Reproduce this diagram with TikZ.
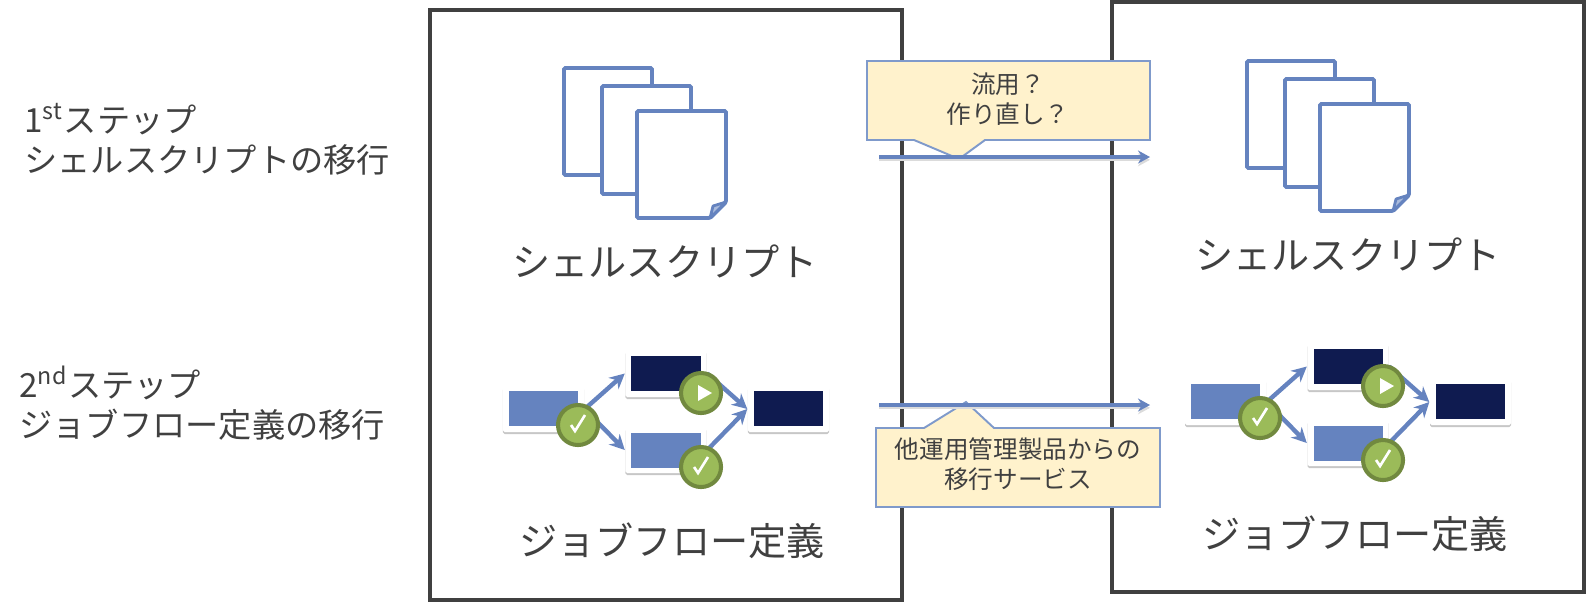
\documentclass[tikz,border=0pt]{standalone}
\usepackage{fontspec}
\setmainfont{Noto Sans CJK JP}
\usetikzlibrary{arrows.meta,shadows}
\definecolor{flowblue}{HTML}{6583BF}
\definecolor{flownavy}{HTML}{0F1B50}
\definecolor{badgegreen}{HTML}{9BBB59}
\definecolor{badgeedge}{HTML}{71893F}
\definecolor{notefill}{HTML}{FFF2CC}
\definecolor{noteedge}{HTML}{7F9ACB}
\definecolor{inktext}{HTML}{404040}
\tikzset{
    px/.style={x=0.01cm,y=-0.01cm},
    frame/.style={draw=inktext,line width=1.15pt,minimum width=4.72cm,inner sep=0},
    sheet/.style={draw=flowblue,fill=white,line width=1.1pt,rounded corners=0.4pt},
    card/.style={fill=white,rounded corners=0.5pt,minimum width=0.81cm,inner sep=0,
        drop shadow={shadow xshift=0cm,shadow yshift=-0.02cm,opacity=0.22,fill=black}},
    lightcard/.style={minimum width=0.69cm,minimum height=0.35cm,inner sep=0,fill=flowblue},
    darkcard/.style={minimum width=0.69cm,minimum height=0.35cm,inner sep=0,fill=flownavy},
    badge/.style={circle,fill=badgegreen,draw=badgeedge,line width=1.15pt,minimum size=0.40cm,inner sep=0},
    flowarrow/.style={draw=flowblue,line width=1.25pt,-{Stealth[length=0.15cm,width=0.15cm]}},
    mainarrow/.style={draw=flowblue,line width=1.25pt,-{Stealth[length=0.12cm,width=0.13cm]},
        preaction={draw=black!14,transform canvas={yshift=-0.8pt}}},
    note/.style={draw=noteedge,fill=notefill,line width=0.55pt},
    notetext/.style={font=\fontsize{7}{8.6}\selectfont,text=inktext,align=center},
    bigtext/.style={font=\fontsize{10.85}{13}\selectfont,text=inktext},
    steptext/.style={font=\fontsize{9.45}{11.6}\selectfont,text=inktext,align=left,anchor=west},
    pics/sheets/.style={code={
        \draw[sheet] (564,68) rectangle (652,175);
        \draw[sheet] (602,86) rectangle (691,194);
        \draw[sheet] (637,111) -- (726,111) -- (726,202) -- (710,218) -- (637,218) -- cycle;
        \draw[draw=flowblue,fill=flowblue!55,line width=0.8pt,line join=round] (726,202) -- (713,206) -- (710,218) -- cycle;
    }},
    pics/jobflow/.style={code={
        \node[card,minimum height=0.46cm] (first) at (543.5,409) {};
        \node[card,minimum height=0.47cm] (upper) at (666,373.5) {};
        \node[card,minimum height=0.46cm] (lower) at (666,450) {};
        \node[card,minimum height=0.46cm] (last) at (788.5,409) {};
        \draw[flowarrow] (first.east) -- (upper.west);
        \draw[flowarrow] (first.east) -- (lower.west);
        \draw[flowarrow] (upper.east) -- (last.west);
        \draw[flowarrow] (lower.east) -- (last.west);
        \node[lightcard] (firstbox) at (543.5,408.5) {};
        \node[darkcard] (upperbox) at (666,373) {};
        \node[lightcard] (lowerbox) at (666,450) {};
        \node[darkcard] (lastbox) at (788.5,408.5) {};
        \node[badge] (firstok) at (578,425) {};
        \node[badge] (upperrun) at (701,393) {};
        \node[badge] (lowerok) at (701,467) {};
        \draw[white,line width=0.75pt] (571,425) -- (575,431) -- (585,415);
        \draw[white,line width=0.75pt] (694,467) -- (698,473) -- (708,457);
        \fill[white] (698,385) -- (712,393) -- (698,401) -- cycle;
    }}
}
\begin{document}
\begin{tikzpicture}[px]
    \useasboundingbox (0,0) rectangle (1586,602);
    \node[frame,minimum height=5.90cm] (srcframe) at (666,305) {};
    \node[frame,minimum height=5.90cm] (dstframe) at (1348,297) {};
    \node[steptext] (firststep) at (12,119) {1\textsuperscript{st}ステップ};
    \node[steptext] (firstname) at (12,160) {シェルスクリプトの移行};
    \node[steptext] (secondstep) at (7,383) {2\textsuperscript{nd}ステップ};
    \node[steptext] (secondname) at (7,425) {ジョブフロー定義の移行};
    \pic (srcsheets) at (0,0) {sheets};
    \pic (dstsheets) at (683,-7) {sheets};
    \node[bigtext] (srcscript) at (665,261) {シェルスクリプト};
    \node[bigtext] (dstscript) at (1348,254) {シェルスクリプト};
    \pic (srcflow) at (0,0) {jobflow};
    \pic (dstflow) at (682,-7) {jobflow};
    \node[bigtext] (srcjob) at (672,541) {ジョブフロー定義};
    \node[bigtext] (dstjob) at (1355,534) {ジョブフロー定義};
    % callouts over the two transfer arrows
    \draw[note] (867,61) -- (1150,61) -- (1150,140) -- (985,140) -- (959,159) -- (914,140) -- (867,140) -- cycle;
    \draw[note] (876,428) -- (924,428) -- (966,402) -- (994,428) -- (1160,428) -- (1160,507) -- (876,507) -- cycle;
    \node[notetext] (reusenote) at (1008,99) {流用？\\作り直し？};
    \node[notetext] (servicenote) at (1018,464) {他運用管理製品からの\\移行サービス};
    \coordinate (scriptfrom) at (879,157);
    \coordinate (scriptto) at (1150,157);
    \coordinate (jobfrom) at (879,405);
    \coordinate (jobto) at (1150,405);
    \draw[mainarrow] (scriptfrom) -- (scriptto);
    \draw[mainarrow] (jobfrom) -- (jobto);
\end{tikzpicture}
\end{document}
